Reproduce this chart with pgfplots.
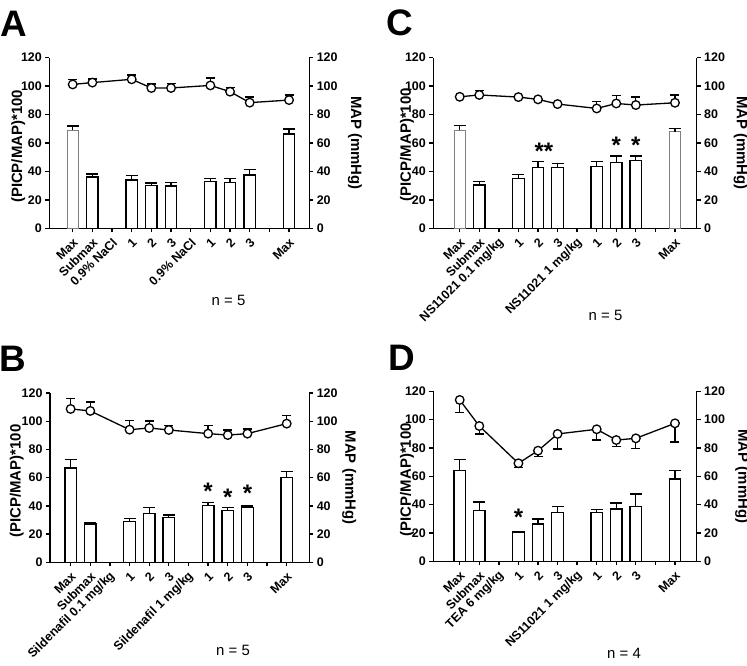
\documentclass[border=0pt]{standalone}
\usepackage{fontspec}
\setmainfont{Liberation Sans}
\usepackage{pgfplots}
\pgfplotsset{compat=1.18}
\usepackage{pgfplotstable}

% bars: x y err  (x = category index)
\pgfplotstableread{
x y e
1 36.1 2.1
3 34.0 3.0
4 30.0 1.9
5 29.8 2.5
7 32.8 2.4
8 32.3 2.9
9 37.5 3.7
11 66.3 3.6
}\Abars
\pgfplotstableread{
x y e
0 69.1 2.9
}\Athin
\pgfplotstableread{
x y e
0 101.2 3.3
1 102.5 2.5
3 104.8 3.0
4 98.7 2.8
5 98.7 3.0
7 100.5 5.2
8 96.1 3.0
9 88.4 3.9
11 90.2 3.6
}\Amap

\pgfplotstableread{
x y e
0 66.9 5.9
1 27.2 0.7
3 28.8 2.1
4 34.7 4.3
5 31.9 1.6
7 40.4 1.9
8 36.9 1.8
9 38.7 1.2
11 60.0 4.5
}\Bbars
\pgfplotstableread{
x y e
0 108.7 7.5
1 107.3 6.3
3 94.0 6.4
4 95.2 5.0
5 93.8 3.1
7 91.2 5.7
8 90.2 3.6
9 91.2 3.3
11 98.3 5.6
}\Bmap

\pgfplotstableread{
x y e
1 30.5 2.3
3 35.2 2.8
4 42.9 4.0
5 42.7 2.8
7 43.6 3.3
8 46.4 4.5
9 47.6 3.3
}\Cbars
\pgfplotstableread{
x y e
0 69.0 3.2
11 68.0 2.3
}\Cthin
\pgfplotstableread{
x y e
0 92.5 0
1 93.8 3.2
3 92.3 0
4 90.7 0
5 87.4 0
7 84.3 4.7
8 87.8 5.4
9 86.7 5.6
11 88.3 5.5
}\Cmap

\pgfplotstableread{
x y e
0 64.2 7.6
1 36.0 5.9
3 20.7 0.3
4 26.4 3.5
5 34.6 4.0
7 34.6 1.9
8 36.9 4.3
9 38.8 8.7
11 58.1 6.1
}\Dbars
\pgfplotstableread{
x y e
0 113.9 9.0
1 95.5 5.6
3 69.2 2.9
4 78.1 4.3
5 89.9 10.6
7 93.2 7.6
8 85.6 4.7
9 86.8 7.3
11 97.4 13.2
}\Dmap

\pgfplotsset{
  base/.style={scale only axis, ymin=0, ymax=120, anchor=south west,
    tick align=outside, major tick length=4bp,
    axis line style={line width=1.3bp},
    every tick/.style={line width=1.3bp, black},
    tick label style={font=\fontsize{12.5}{12.5}\selectfont\bfseries},
    label style={font=\fontsize{15}{15}\selectfont\bfseries},
    /pgf/number format/assume math mode=true,
    ytick={0,20,...,120}, clip=false},
  leftax/.style={base, axis x line*=bottom, axis y line*=left,
    xtick={0,...,11},
    xticklabel style={xshift=3bp, yshift=-8bp, rotate=45, anchor=east, inner sep=0pt},
    ylabel={(PICP/MAP)*100}},
  rightax/.style={base, axis x line=none, axis y line*=right,
    ylabel={MAP (mmHg)}},
  barplot/.style={ybar, bar width=11.5bp, fill=white, draw=black, line width=1.3bp,
    error bars/.cd, y dir=plus, y explicit,
    error mark options={rotate=90, mark size=6bp, line width=1.3bp, black},
    error bar style={line width=1.3bp, black}},
  thinbar/.style={ybar, bar width=11.5bp, fill=white, draw=gray, line width=0.6bp,
    error bars/.cd, y dir=plus, y explicit,
    error mark options={rotate=90, mark size=6bp, line width=1.3bp, black},
    error bar style={line width=1.3bp, black}},
  mapline/.style={black, line width=1.3bp, mark=none,
    error bars/.cd, y dir=#1, y explicit,
    error mark options={rotate=90, mark size=4.5bp, line width=1.3bp, black},
    error bar style={line width=1.3bp, black}},
  mapdots/.style={only marks, mark=*, mark size=4.3bp,
    mark options={fill=white, draw=black, line width=1.3bp}},
}
\tikzset{
  star/.style={font=\fontsize{24}{24}\selectfont\bfseries, anchor=base, yshift=-13.7bp},
  letter/.style={font=\fontsize{37}{37}\selectfont\bfseries, anchor=base west, inner sep=0pt},
  nlab/.style={font=\fontsize{15}{15}\selectfont}
}

\begin{document}
\begin{tikzpicture}
\path[use as bounding box] (0,-666bp) rectangle (747bp,0);

% ---------- A ----------
\node[letter] at (0.5bp,-36.7bp) {A};
\begin{axis}[leftax, at={(49.3bp,-228.3bp)}, width=260bp, height=170.6bp,
  xmin=-1.19, xmax=12.03,
  xticklabels={Max,Submax,0.9\% NaCl,1,2,3,0.9\% NaCl,1,2,3,{},Max},
  ylabel style={at={(axis description cs:-0.119,0.48)}, anchor=center}]
\addplot[barplot] table[x=x, y=y, y error=e] {\Abars};
\addplot[thinbar] table[x=x, y=y, y error=e] {\Athin};
\end{axis}
\begin{axis}[rightax, at={(49.3bp,-228.3bp)}, width=260bp, height=170.6bp,
  xmin=-1.19, xmax=12.03,
  ylabel style={at={(axis description cs:1.176,0.5)}, anchor=center, rotate=180}]
\addplot[mapline=plus] table[x=x, y=y, y error=e] {\Amap};
\addplot[mapdots] table[x=x, y=y] {\Amap};
\end{axis}
\node[nlab] at (228.5bp,-300bp) {n = 5};

% ---------- C ----------
\node[letter] at (386bp,-35bp) {C};
\begin{axis}[leftax, at={(433.3bp,-228.3bp)}, width=263.4bp, height=170.6bp,
  xmin=-1.35, xmax=12.11,
  xticklabels={Max,Submax,NS11021 0.1 mg/kg,1,2,3,NS11021 1 mg/kg,1,2,3,{},Max},
  ylabel style={at={(axis description cs:-0.1,0.49)}, anchor=center}]
\addplot[barplot] table[x=x, y=y, y error=e] {\Cbars};
\addplot[thinbar] table[x=x, y=y, y error=e] {\Cthin};
\node[star] at (axis cs:4.3,58.1) {**};
\node[star] at (axis cs:8,62.1) {*};
\node[star] at (axis cs:9,62.1) {*};
\end{axis}
\begin{axis}[rightax, at={(433.3bp,-228.3bp)}, width=263.4bp, height=170.6bp,
  xmin=-1.35, xmax=12.11,
  ylabel style={at={(axis description cs:1.167,0.5)}, anchor=center, rotate=180}]
\addplot[mapline=plus] table[x=x, y=y, y error=e] {\Cmap};
\addplot[mapdots] table[x=x, y=y] {\Cmap};
\end{axis}
\node[nlab] at (605.5bp,-315bp) {n = 5};

% ---------- B ----------
\node[letter] at (-1bp,-371bp) {B};
\begin{axis}[leftax, at={(50bp,-562.3bp)}, width=259.3bp, height=169.3bp,
  xmin=-1.05, xmax=12.15,
  xticklabels={Max,Submax,Sildenafil 0.1 mg/kg,1,2,3,Sildenafil 1 mg/kg,1,2,3,{},Max},
  ylabel style={at={(axis description cs:-0.128,0.48)}, anchor=center}]
\addplot[barplot] table[x=x, y=y, y error=e] {\Bbars};
\node[star] at (axis cs:7,53.9) {*};
\node[star] at (axis cs:8,50.3) {*};
\node[star] at (axis cs:9,52.7) {*};
\end{axis}
\begin{axis}[rightax, at={(50bp,-562.3bp)}, width=259.3bp, height=169.3bp,
  xmin=-1.05, xmax=12.15,
  ylabel style={at={(axis description cs:1.154,0.5)}, anchor=center, rotate=180}]
\addplot[mapline=plus] table[x=x, y=y, y error=e] {\Bmap};
\addplot[mapdots] table[x=x, y=y] {\Bmap};
\end{axis}
\node[nlab] at (233bp,-650bp) {n = 5};

% ---------- D ----------
\node[letter] at (388.5bp,-370bp) {D};
\begin{axis}[leftax, at={(433.3bp,-561.3bp)}, width=263.4bp, height=170bp,
  xmin=-1.35, xmax=12.11,
  xticklabels={Max,Submax,TEA 6 mg/kg,1,2,3,NS11021 1 mg/kg,1,2,3,{},Max},
  ylabel style={at={(axis description cs:-0.1,0.48)}, anchor=center}]
\addplot[barplot] table[x=x, y=y, y error=e] {\Dbars};
\node[star] at (axis cs:3,35.3) {*};
\end{axis}
\begin{axis}[rightax, at={(433.3bp,-561.3bp)}, width=263.4bp, height=170bp,
  xmin=-1.35, xmax=12.11,
  ylabel style={at={(axis description cs:1.173,0.5)}, anchor=center, rotate=180}]
\addplot[mapline=minus] table[x=x, y=y, y error=e] {\Dmap};
\addplot[mapdots] table[x=x, y=y] {\Dmap};
\end{axis}
\node[nlab] at (624bp,-653bp) {n = 4};

\end{tikzpicture}
\end{document}
